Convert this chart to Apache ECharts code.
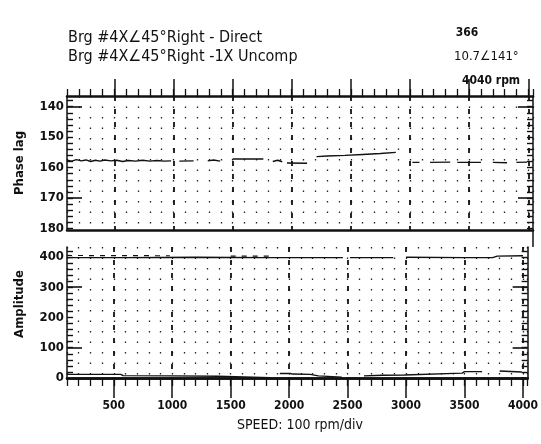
<!DOCTYPE html>
<html>
<head>
<meta charset="utf-8">
<script src="https://cdn.jsdelivr.net/npm/echarts@6/dist/echarts.min.js"></script>
<style>
html, body { margin: 0; padding: 0; background: #fff; }
#chart { width: 541px; height: 444px; }
</style>
</head>
<body>
<div id="chart"></div>
<script>
var FONT = "'DejaVu Sans Condensed', 'Liberation Sans', sans-serif";
var INK = '#111';

// speed axis, rpm
var speedMin = 100;
var speedMax = 4040;
var speedMajor = [500, 1000, 1500, 2000, 2500, 3000, 3500, 4000];

// phase lag axis, deg (drawn inverted)
var phaseMin = 136.5;
var phaseMax = 180.5;
var phaseLabels = [140, 150, 160, 170, 180];
var phaseLong = [140, 170];
var phaseTicks = [138, 140, 142, 144, 146, 148, 150, 152, 154, 156, 158, 160,
	162, 164, 166, 168, 170, 172, 174, 176, 178, 180];

// amplitude axis
var ampMin = 0;
var ampMax = 433;
var ampLabels = [0, 100, 200, 300, 400];
var ampLong = [100, 300];
var ampTicks = [20, 40, 60, 80, 100, 120, 140, 160, 180, 200, 220, 240, 260,
	280, 300, 320, 340, 360, 380, 400, 420];

// phase lag trace (null = dropout)
var phaseRpm = [100, 140, 180, 220, 260, 300, 340, 380, 420, 470, 520, 570, 620, 680, 740, 800, 860, 920, 980, 1010,
	1050, 1170, 1200,
	1290, 1340, 1395, 1440,
	1500, 1760, 1800,
	1840, 1880, 1920, 1940,
	1960, 2130, 2170,
	2210, 2300, 2450, 2600, 2750, 2880, 2940,
	3020, 3080, 3110,
	3170, 3340, 3370,
	3400, 3600, 3650,
	3700, 3820, 3860,
	3900, 3990];
var phaseDeg = [157.6, 157.9, 157.4, 157.8, 157.5, 158.0, 157.6, 157.9, 157.5, 157.8, 157.6, 158.0, 157.7, 157.9, 157.6, 157.9, 157.7, 157.9, 157.8, null,
	157.9, 157.8, null,
	157.8, 157.5, 157.9, null,
	157.2, 157.2, null,
	158.0, 157.6, 158.1, null,
	158.5, 158.6, null,
	156.4, 156.2, 156.0, 155.7, 155.4, 155.0, null,
	158.3, 158.3, null,
	158.3, 158.2, null,
	158.3, 158.3, null,
	158.3, 158.4, null,
	158.3, 158.2];

// amplitude, upper trace
var ampTopRpm = [100, 600, 1200, 1800, 2460, 2480, 2520, 2890, 2940, 3000, 3500, 3740, 3780, 4000];
var ampTop = [398, 398, 399, 398, 398, null, 398, 398, null, 399, 398, 398, 403, 404];

// amplitude, broken overlay just above the upper trace
var ampDirRpm = [100, 980, 1010, 1500, 1840];
var ampDir = [405, 404, null, 403, 403];

// amplitude, lower trace
var ampLowRpm = [100, 560, 580, 1000, 1390, 1400, 1840, 1880, 1920, 2010, 2030, 2180, 2250, 2450, 2550,
	2640, 2800, 2985, 3000, 3480, 3500, 3650, 3730, 3800, 3990];
var ampLow = [12, 12, 8, 7, 6, 2, 1, null, 15, 15, 13, 12, 7, 3, null,
	7, 9, 10, 13, 16, 21, 21, null, 23, 20];

function pairs(xs, ys) {
	return xs.map(function(x, i) {
		return [x, ys[i] === null ? '-' : ys[i]];
	});
}

function hidden(extra) {
	var base = {
		type : 'value',
		axisLine : { show : false },
		axisTick : { show : false },
		axisLabel : { show : false },
		splitLine : { show : false }
	};
	for (var k in extra) base[k] = extra[k];
	return base;
}

var dotted = { show : true, lineStyle : { color : '#222', width : 1.3, type : [1.5, 9] } };
var dashed = { show : true, lineStyle : { color : INK, width : 1.8, type : [5, 8] } };
var tickFont = { fontFamily : FONT, fontWeight : 'bold', color : INK };

function xAxes(grid, pos, other, minorLen, majorLen, withLabels) {
	return [
		hidden({
			gridIndex : grid, position : pos, min : speedMin, max : speedMax, interval : 100,
			axisLine : { show : true, lineStyle : { color : INK, width : 2.5 } },
			axisTick : { show : true, length : minorLen, lineStyle : { color : INK, width : 1.3 } },
			splitLine : dotted
		}),
		hidden({
			gridIndex : grid, position : pos, min : speedMin, max : speedMax,
			axisTick : { show : true, length : majorLen, customValues : speedMajor, lineStyle : { color : INK, width : 1.5 } },
			axisLabel : withLabels ? Object.assign({
				show : true, customValues : speedMajor, margin : 22, fontSize : 12,
				formatter : function(v) { return String(v); }
			}, tickFont) : { show : false },
			splitLine : dashed
		}),
		// frame line on the other side of the panel
		hidden({
			gridIndex : grid, position : other, min : speedMin, max : speedMax,
			axisLine : { show : true, lineStyle : { color : INK, width : 2.5 } }
		})
	];
}

function yAxes(grid, min, max, inverse, ticks, longs, labels) {
	var axes = [];
	[ 'left', 'right' ].forEach(function(pos) {
		axes.push(hidden({
			gridIndex : grid, position : pos, min : min, max : max, inverse : inverse,
			axisLine : { show : true, lineStyle : { color : INK, width : 1.5 } },
			axisTick : { show : true, inside : true, length : 6, customValues : ticks, lineStyle : { color : INK, width : 1.4 } },
			axisLabel : pos === 'left' ? Object.assign({
				show : true, customValues : labels, margin : 3, fontSize : 13
			}, tickFont) : { show : false }
		}));
		axes.push(hidden({
			gridIndex : grid, position : pos, min : min, max : max, inverse : inverse,
			axisTick : { show : true, inside : true, length : 15, customValues : longs, lineStyle : { color : INK, width : 1.6 } }
		}));
	});
	return axes;
}

var xs = xAxes(0, 'top', 'bottom', 7, 17, false).concat(xAxes(1, 'bottom', 'top', 8, 20, true));
var ys = yAxes(0, phaseMin, phaseMax, true, phaseTicks, phaseLong, phaseLabels)
	.concat(yAxes(1, ampMin, ampMax, false, ampTicks, ampLong, ampLabels));

function text(x, y, str, size, opt) {
	opt = opt || {};
	return {
		type : 'text', x : x, y : y, rotation : opt.rotation || 0, silent : true,
		style : {
			text : str, fill : INK, fontFamily : FONT, fontSize : size,
			fontWeight : opt.weight || 'normal',
			align : opt.align || 'left', verticalAlign : 'middle'
		}
	};
}

var option = {
	animation : false,
	backgroundColor : '#fff',
	grid : [
		{ left : 67, top : 96, width : 466, height : 134 },
		{ left : 67, top : 247, width : 466, height : 131 }
	],
	xAxis : xs,
	yAxis : ys,
	graphic : [
		text(68, 38, 'Brg #4X∠45°Right - Direct', 16),
		text(68, 57, 'Brg #4X∠45°Right -1X Uncomp', 16),
		text(467, 33, '366', 12, { align : 'center', weight : 'bold' }),
		text(454, 57, '10.7∠141°', 13),
		text(462, 81, '4040 rpm', 12, { weight : 'bold' }),
		text(20, 163, 'Phase lag', 13, { rotation : Math.PI / 2, align : 'center', weight : 'bold' }),
		text(20, 304, 'Amplitude', 13, { rotation : Math.PI / 2, align : 'center', weight : 'bold' }),
		text(300, 425, 'SPEED: 100 rpm/div', 14, { align : 'center' }),
		{ type : 'line', silent : true, shape : { x1 : 533, y1 : 230, x2 : 533, y2 : 247 },
			style : { stroke : INK, lineWidth : 1.5 } }
	],
	series : [ {
		name : 'Phase lag',
		type : 'line',
		xAxisIndex : 0,
		yAxisIndex : 0,
		symbol : 'none',
		lineStyle : { color : INK, width : 1.4 },
		data : pairs(phaseRpm, phaseDeg)
	}, {
		name : 'Amplitude',
		type : 'line',
		xAxisIndex : 3,
		yAxisIndex : 4,
		symbol : 'none',
		lineStyle : { color : INK, width : 1.4 },
		data : pairs(ampTopRpm, ampTop)
	}, {
		name : 'Amplitude direct',
		type : 'line',
		xAxisIndex : 3,
		yAxisIndex : 4,
		symbol : 'none',
		lineStyle : { color : INK, width : 1.2, type : [5, 6] },
		data : pairs(ampDirRpm, ampDir)
	}, {
		name : 'Amplitude low',
		type : 'line',
		xAxisIndex : 3,
		yAxisIndex : 4,
		symbol : 'none',
		lineStyle : { color : INK, width : 1.4 },
		data : pairs(ampLowRpm, ampLow)
	} ]
};

var chart = echarts.init(document.getElementById('chart'));
chart.setOption(option);
</script>
</body>
</html>
